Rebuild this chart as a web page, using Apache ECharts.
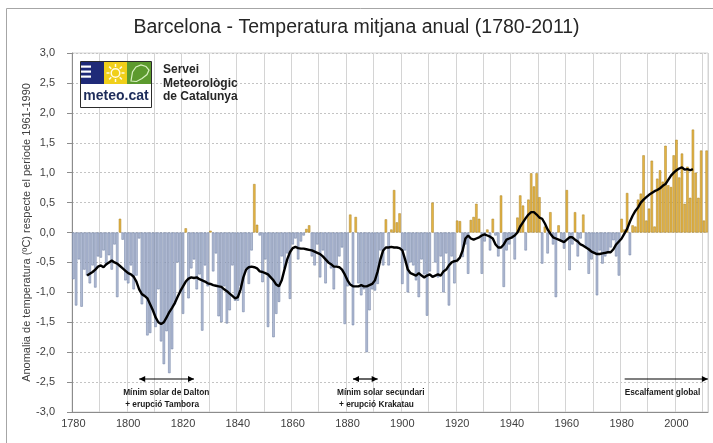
<!DOCTYPE html>
<html><head><meta charset="utf-8">
<script src="https://cdn.jsdelivr.net/npm/echarts@6/dist/echarts.min.js"></script>
<style>html,body{margin:0;padding:0;background:#fff}#c{width:713px;height:443px}</style>
</head><body><div id="c"></div>
<script>
// ---- data ----
const firstYear = 1780;
const lastYear = 2011;
const years = [];
for (let y = firstYear; y <= lastYear; y++) years.push(String(y));

// annual anomaly (°C) vs 1961-1990
const anomalies = [
  -0.78,-1.22,-0.45,-1.24,-0.62,-0.72,-0.85,-0.55,-0.92,-0.40, // 1780s
  -0.42,-0.30,-0.55,-0.38,-0.62,-0.20,-1.08, 0.23,-0.12,-0.80, // 1790s
  -0.85,-0.55,-0.95,-0.72,-0.10,-1.20,-1.05,-1.72,-1.68,-1.30, // 1800s
  -1.58,-0.95,-1.82,-2.20,-1.65,-2.35,-1.95,-1.20,-0.50,-1.00, // 1810s
  -1.36, 0.07,-1.10,-0.60,-0.45,-0.95,-0.70,-1.64,-0.55,-0.90, // 1820s
   0.03,-0.65,-0.35,-1.40,-1.50,-0.90,-1.52,-1.30,-0.55,-1.14, // 1830s
  -1.14,-0.89,-1.33,-0.60,-0.86,-0.30, 0.81, 0.13,-0.05,-0.83, // 1840s
  -0.45,-1.58,-0.75,-1.75,-1.36,-1.16,-0.40,-0.60,-0.35,-1.11, // 1850s
  -0.20,-0.10,-0.45,-0.15,-0.05, 0.06, 0.12,-0.40,-0.55,-0.20, // 1860s
  -0.75,-0.30,-0.85,-0.50,-0.60,-0.95,-0.55,-0.40,-0.25,-1.53, // 1870s
  -0.90, 0.30,-1.55, 0.26,-0.85,-1.05,-0.95,-2.00,-1.30,-0.95, // 1880s
  -0.97,-0.86,-0.30,-0.55, 0.22,-0.55, 0.05, 0.71, 0.17, 0.32, // 1890s
  -0.86,-0.30,-1.00,-0.50,-0.55,-0.80,-1.08,-0.45,-0.70,-1.39, // 1900s
  -0.65, 0.50,-0.50,-0.75,-0.40,-1.00,-0.35,-1.22,-0.40,-0.85, // 1910s
   0.20, 0.19,-0.41,-0.20,-0.69, 0.21, 0.26, 0.48, 0.23,-0.69, // 1920s
  -0.15, 0.05,-0.30, 0.23,-0.05,-0.40, 0.62,-0.91,-0.30,-0.20, // 1930s
  -0.10,-0.45, 0.25, 0.62, 0.45,-0.30, 0.55, 0.99, 0.77, 0.99, // 1940s
   0.59,-0.52, 0.10,-0.35, 0.34,-0.20,-1.08, 0.12,-0.15,-0.27, // 1950s
   0.71,-0.63,-0.20, 0.34,-0.40,-0.10, 0.30,-0.25,-0.69,-0.45, // 1960s
  -0.35,-1.05,-0.30,-0.52,-0.40,-0.33,-0.25,-0.13,-0.40,-0.72, // 1970s
   0.23, 0.05, 0.66,-0.38, 0.12, 0.10, 0.55, 0.65, 1.29, 0.20, // 1980s
   0.40, 1.20, 0.10, 0.90, 1.04, 0.85, 1.45, 0.79, 0.76, 1.29, // 1990s
   1.55, 0.92, 1.32, 0.48, 1.10, 0.58, 1.72, 1.00, 0.58, 1.37, // 2000s
   0.20, 1.37                                                   // 2010-2011
];

// black smoothed curve (1785-2006)
const smoothStartYear = 1785;
const smoothCurve = [
  -0.72,-0.69,-0.66,-0.62,-0.57,                               // 1785-89
  -0.55,-0.58,-0.53,-0.50,-0.47,-0.50,-0.52,-0.56,-0.60,-0.64, // 1790s
  -0.68,-0.70,-0.74,-0.82,-0.95,-1.03,-1.06,-1.10,-1.20,-1.30, // 1800s
  -1.42,-1.50,-1.53,-1.50,-1.42,-1.33,-1.26,-1.18,-1.08,-0.98, // 1810s
  -0.90,-0.82,-0.77,-0.75,-0.76,-0.75,-0.78,-0.80,-0.82,-0.85, // 1820s
  -0.86,-0.88,-0.89,-0.90,-0.91,-0.95,-0.98,-1.02,-1.06,-1.10, // 1830s
  -1.08,-0.95,-0.75,-0.62,-0.58,-0.57,-0.58,-0.60,-0.65,-0.66, // 1840s
  -0.68,-0.70,-0.75,-0.80,-0.87,-0.90,-0.80,-0.62,-0.45,-0.33, // 1850s
  -0.26,-0.24,-0.26,-0.27,-0.27,-0.28,-0.29,-0.30,-0.32,-0.34, // 1860s
  -0.36,-0.40,-0.45,-0.50,-0.53,-0.57,-0.57,-0.58,-0.62,-0.70, // 1870s
  -0.80,-0.87,-0.90,-0.90,-0.90,-0.88,-0.90,-0.90,-0.88,-0.86, // 1880s
  -0.80,-0.65,-0.45,-0.30,-0.25,-0.25,-0.24,-0.25,-0.25,-0.26, // 1890s
  -0.30,-0.45,-0.62,-0.68,-0.70,-0.72,-0.68,-0.72,-0.75,-0.72, // 1900s
  -0.70,-0.74,-0.72,-0.70,-0.72,-0.65,-0.62,-0.55,-0.50,-0.48, // 1910s
  -0.47,-0.42,-0.30,-0.10,-0.05,-0.10,-0.12,-0.10,-0.08,-0.05, // 1920s
  -0.03,-0.05,-0.07,-0.10,-0.20,-0.25,-0.25,-0.20,-0.12,-0.10, // 1930s
  -0.08,-0.05, 0.00, 0.10, 0.17, 0.24, 0.30, 0.34, 0.34, 0.30, // 1940s
   0.25, 0.23, 0.15, 0.05,-0.02,-0.08,-0.10,-0.12,-0.14,-0.16, // 1950s
  -0.12,-0.08,-0.08,-0.12,-0.15,-0.20,-0.22,-0.25,-0.28,-0.32, // 1960s
  -0.34,-0.36,-0.36,-0.35,-0.34,-0.33,-0.33,-0.28,-0.20,-0.15, // 1970s
  -0.10,-0.02, 0.06, 0.18, 0.28, 0.36, 0.42, 0.50, 0.55, 0.59, // 1980s
   0.63, 0.66, 0.69, 0.71, 0.74, 0.78, 0.81, 0.88, 0.95, 1.00, // 1990s
   1.04, 1.07, 1.09, 1.05, 1.06, 1.04, 1.06                    // 2000-2006
];

const yTicks = [-3, -2.5, -2, -1.5, -1, -0.5, 0, 0.5, 1, 1.5, 2, 2.5, 3];

const titleText = 'Barcelona - Temperatura mitjana anual (1780-2011)';
const yAxisTitle = 'Anomalia de temperatura (ºC) respecte el període 1961-1990';
const notes = [
  { lines: ['Mínim solar de Dalton', '+ erupció Tambora'], fromYear: 1804, toYear: 1824 },
  { lines: ['Mínim solar secundari', '+ erupció Krakatau'], fromYear: 1882, toYear: 1891 }
];
const globalNote = 'Escalfament global';

// ---- styles ----
const NEG = { color: '#b4bed6', borderColor: '#66789f', borderWidth: 0.5 };
const POS = { color: '#e6b545', borderColor: '#a98124', borderWidth: 0.5 };
const FONT = '"Liberation Sans", Arial, sans-serif';
const NARROW = '"Liberation Sans Narrow", "Liberation Sans", Arial, sans-serif';

const barData = anomalies.map(v => ({ value: v, itemStyle: v >= 0 ? POS : NEG }));
const lineData = years.map((y, i) => {
  const k = (+y) - smoothStartYear;
  return (k >= 0 && k < smoothCurve.length) ? smoothCurve[k] : null;
});

const chart = echarts.init(document.getElementById('c'), null, { renderer: 'canvas' });

const option = {
  animation: false,
  backgroundColor: '#ffffff',
  title: {
    text: titleText, left: 'center', top: 13,
    textStyle: { fontFamily: FONT, fontSize: 19.5, fontWeight: 'normal', color: '#262626' }
  },
  grid: { left: 72, right: 5, top: 53, bottom: 31, show: true, borderColor: '#d4d4d4', borderWidth: 1 },
  xAxis: {
    type: 'category', data: years, boundaryGap: true,
    axisLine: { onZero: false, lineStyle: { color: '#8c8c8c' } },
    axisTick: { show: false },
    axisLabel: { interval: 19, fontFamily: FONT, fontSize: 11, color: '#404040', margin: 6 },
    splitLine: { show: true, interval: 9, lineStyle: { color: '#d4d4d4', width: 1 } }
  },
  yAxis: {
    type: 'value', min: yTicks[0], max: yTicks[yTicks.length - 1], interval: 0.5,
    name: yAxisTitle, nameLocation: 'middle', nameGap: 40, nameMoveOverlap: false,
    nameTextStyle: { fontFamily: FONT, fontSize: 11, color: '#404040' },
    axisLine: { show: true, lineStyle: { color: '#8c8c8c' } },
    axisTick: { show: true, length: 5, lineStyle: { color: '#8c8c8c' } },
    axisLabel: { fontFamily: FONT, fontSize: 11, color: '#404040', margin: 17,
      formatter: v => v.toFixed(1).replace('.', ',') },
    splitLine: { show: true, lineStyle: { color: '#c4c4c4', type: [2, 2] } }
  },
  series: [
    { type: 'bar', data: barData, barCategoryGap: '12%', z: 2 },
    { type: 'line', data: lineData, symbol: 'none', connectNulls: false, z: 3,
      lineStyle: { color: '#000000', width: 2.4 } }
  ]
};
chart.setOption(option);

// ---- graphic overlay: frame, logo, annotations ----
function xOfYear(y) { return chart.convertToPixel({ xAxisIndex: 0 }, String(y)); }
function arrowHead(x, y, dir) {
  return { type: 'polygon', shape: { points: [[x, y], [x - dir * 6, y - 3], [x - dir * 6, y + 3]] },
           style: { fill: '#000' }, silent: true, z: 10 };
}
const g = [];
g.push({ type: 'rect', shape: { x: 6.5, y: 8.5, width: 730, height: 450 },
         style: { fill: 'none', stroke: '#a6a6a6', lineWidth: 1 }, silent: true, z: 0 });

// logo
g.push({ type: 'rect', shape: { x: 80.5, y: 61.5, width: 71, height: 46 }, style: { fill: '#fff', stroke: '#2b2b2b', lineWidth: 1 }, z: 10 });
g.push({ type: 'rect', shape: { x: 81, y: 62, width: 23, height: 22 }, style: { fill: '#1f2a78' }, z: 11 });
[65.5, 70.5, 75.5].forEach(yy => g.push({ type: 'rect', shape: { x: 81, y: yy, width: 10, height: 2.2 }, style: { fill: '#ffffff' }, z: 12 }));
g.push({ type: 'rect', shape: { x: 104, y: 62, width: 23, height: 22 }, style: { fill: '#f0cf1a' }, z: 11 });
g.push({ type: 'circle', shape: { cx: 115.5, cy: 73, r: 4.3 }, style: { fill: 'none', stroke: '#fffbe6', lineWidth: 1.5 }, z: 12 });
for (let k = 0; k < 8; k++) {
  const a = k * Math.PI / 4, c = Math.cos(a), s = Math.sin(a);
  g.push({ type: 'line', shape: { x1: 115.5 + 6 * c, y1: 73 + 6 * s, x2: 115.5 + 9 * c, y2: 73 + 9 * s },
           style: { stroke: '#fffbe6', lineWidth: 1.5 }, z: 12 });
}
g.push({ type: 'rect', shape: { x: 127, y: 62, width: 24, height: 22 }, style: { fill: '#5c9a2e' }, z: 11 });
g.push({ type: 'polygon', shape: { points: [[131,81],[132.5,72],[136,67],[141,65],[146,66.5],[149,70],[147,74.5],[142,78.5],[136.5,81.5]] },
         style: { fill: 'none', stroke: '#d8f0c0', lineWidth: 1.2 }, z: 12 });
g.push({ type: 'text', x: 116, y: 96.5, style: { text: 'meteo.cat', fontFamily: FONT, fontSize: 14, fontWeight: 'bold',
         fill: '#1d2c5a', align: 'center', verticalAlign: 'middle' }, z: 12 });
['Servei', 'Meteorològic', 'de Catalunya'].forEach((t, i) =>
  g.push({ type: 'text', x: 163, y: 70 + i * 13.5, style: { text: t, fontFamily: FONT, fontSize: 12, fontWeight: 'bold',
           fill: '#262626', align: 'left', verticalAlign: 'middle' }, z: 12 }));

// annotations
notes.forEach(n => {
  const x1 = xOfYear(n.fromYear), x2 = xOfYear(n.toYear);
  g.push({ type: 'line', shape: { x1: x1, y1: 379, x2: x2, y2: 379 }, style: { stroke: '#000', lineWidth: 1.2 }, silent: true, z: 10 });
  g.push(arrowHead(x1, 379, -1)); g.push(arrowHead(x2, 379, 1));
  n.lines.forEach((t, i) => g.push({ type: 'text', x: x1 - 16 + i * 2, y: 393 + i * 12,
    style: { text: t, fontFamily: NARROW, fontSize: 8.3, fontWeight: 'bold', fill: '#1a1a1a', align: 'left', verticalAlign: 'middle' }, z: 10 }));
});
{
  const x1 = xOfYear(1980) + 3, x2 = xOfYear(2010) + 4;
  g.push({ type: 'line', shape: { x1: x1, y1: 379, x2: x2, y2: 379 }, style: { stroke: '#000', lineWidth: 1.2 }, silent: true, z: 10 });
  g.push(arrowHead(x2, 379, 1));
  g.push({ type: 'text', x: x1, y: 393, style: { text: globalNote, fontFamily: NARROW, fontSize: 8.3, fontWeight: 'bold',
           fill: '#1a1a1a', align: 'left', verticalAlign: 'middle' }, z: 10 });
}
chart.setOption({ graphic: g });
</script>
</body></html>
